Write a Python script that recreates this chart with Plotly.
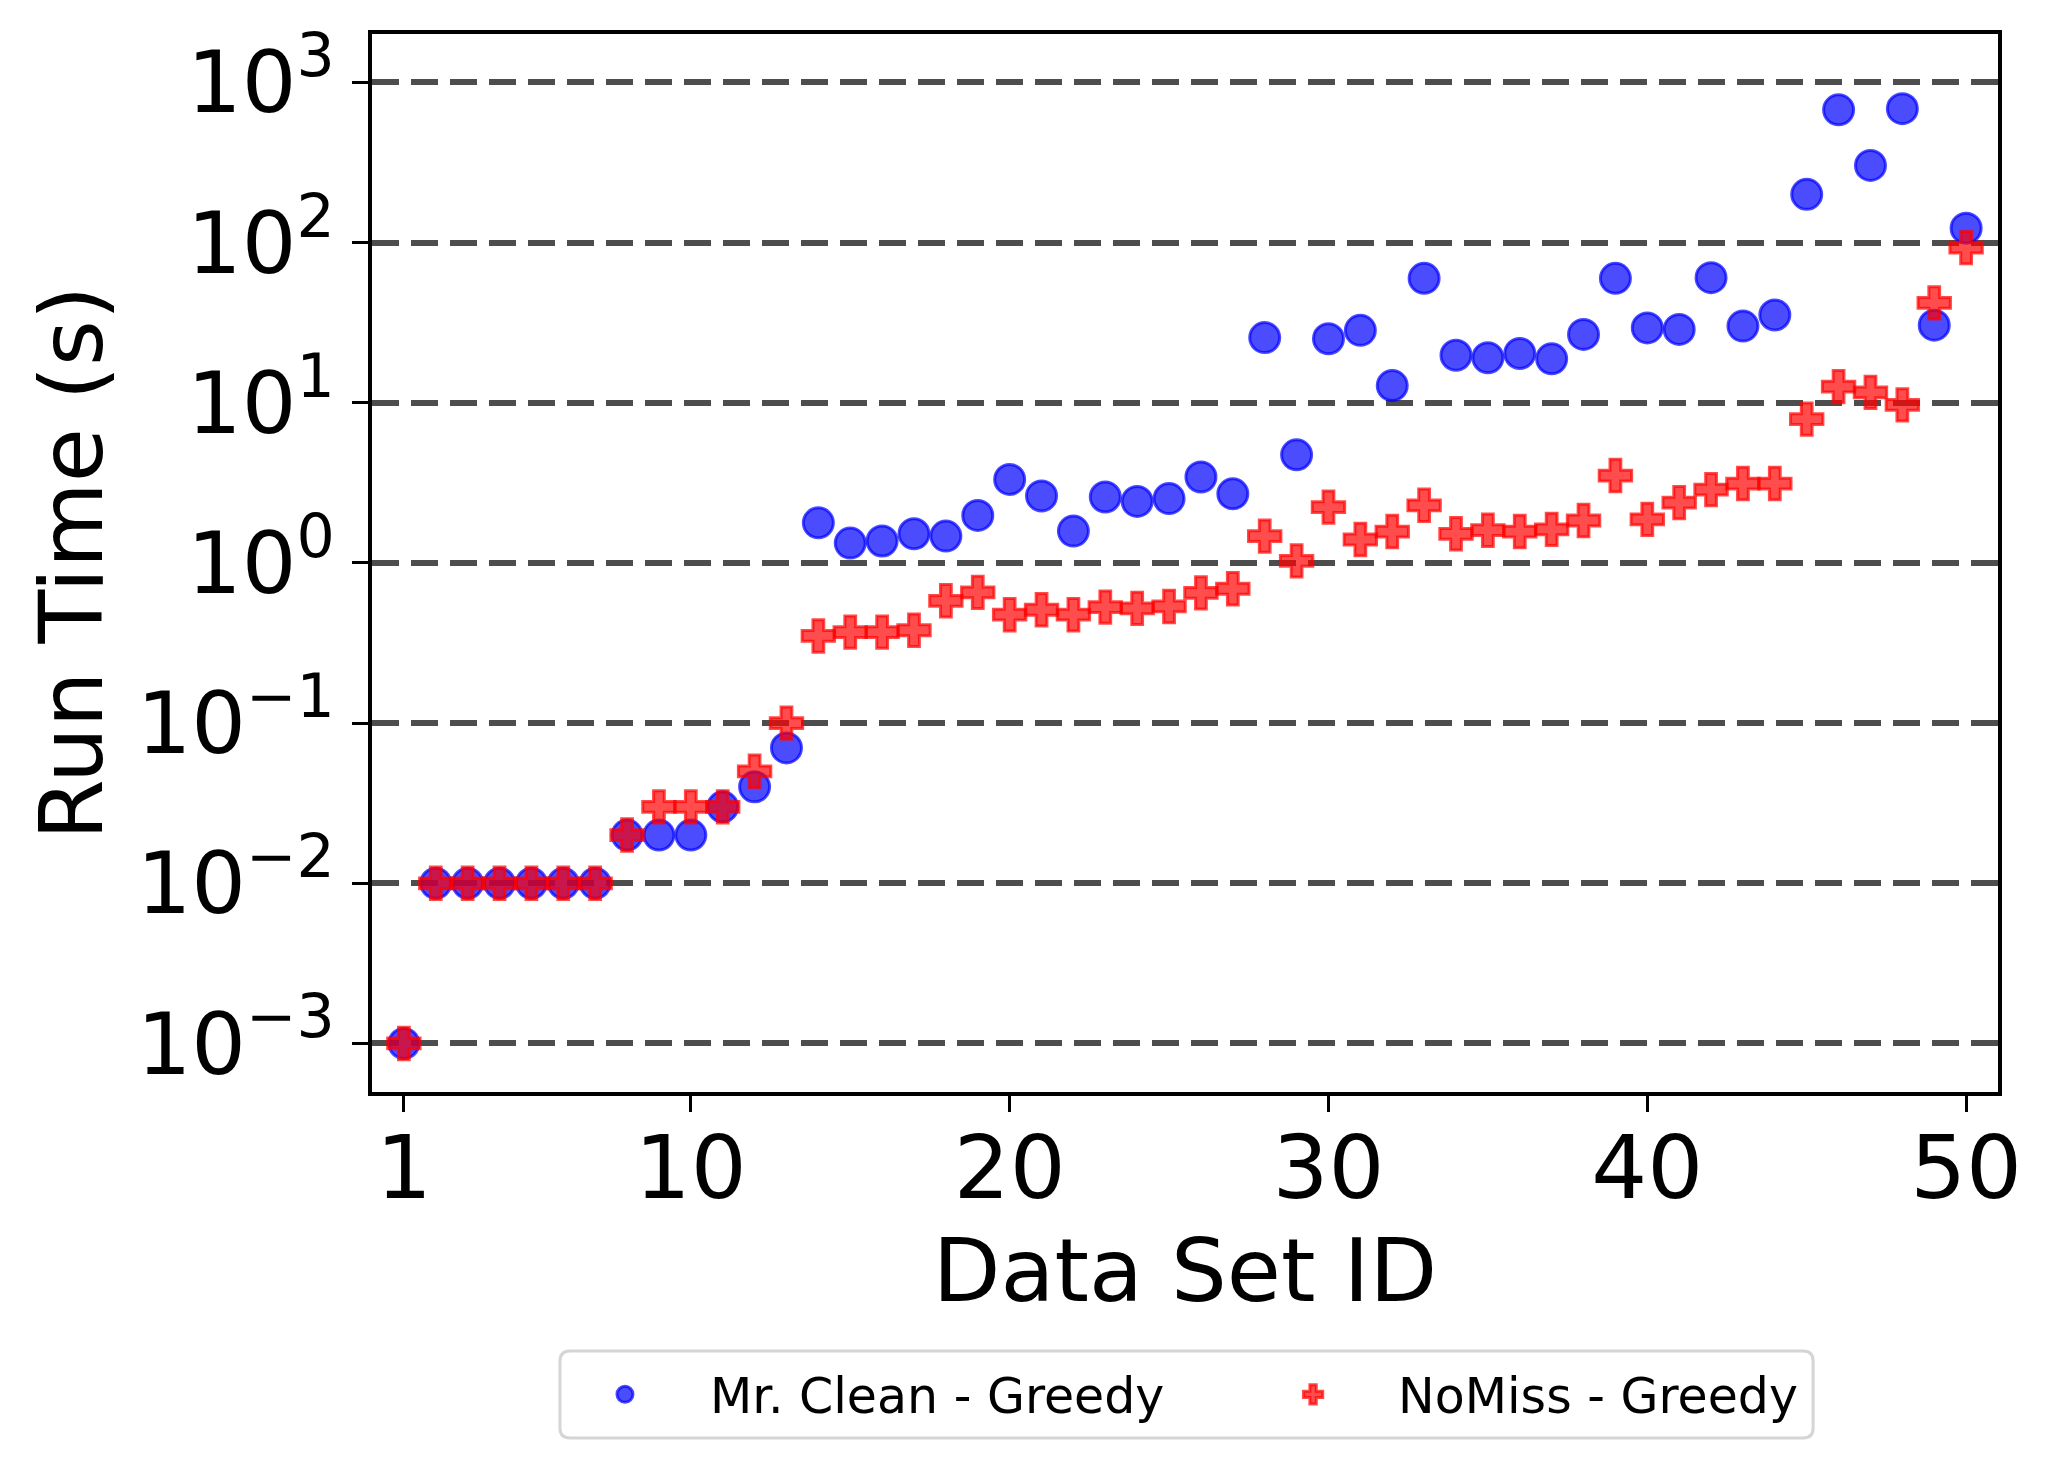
import plotly.graph_objects as go

# ---- data ----
dataset_ids = list(range(1, 51))

mr_clean_greedy = [
    0.001, 0.01, 0.01, 0.01, 0.01, 0.01, 0.01, 0.02, 0.02, 0.02,
    0.03, 0.04, 0.07, 1.78, 1.33, 1.37, 1.52, 1.47, 1.98, 3.32,
    2.62, 1.58, 2.58, 2.42, 2.52, 3.44, 2.70, 25.5, 4.73, 25.1,
    28.3, 12.8, 59.8, 19.8, 19.1, 20.3, 18.8, 26.7, 59.8, 29.3,
    28.7, 60.4, 30.1, 35.3, 200, 674, 303, 685, 30.5, 123,
]

nomiss_greedy = [
    0.001, 0.01, 0.01, 0.01, 0.01, 0.01, 0.01, 0.02, 0.03, 0.03,
    0.03, 0.05, 0.1, 0.35, 0.37, 0.37, 0.38, 0.58, 0.655, 0.475,
    0.51, 0.475, 0.53, 0.52, 0.535, 0.65, 0.69, 1.47, 1.03, 2.23,
    1.40, 1.57, 2.29, 1.52, 1.60, 1.57, 1.62, 1.84, 3.51, 1.87,
    2.38, 2.87, 3.13, 3.13, 7.9, 12.6, 11.6, 9.7, 42, 93,
]

x_tick_vals = [1, 10, 20, 30, 40, 50]
y_tick_vals = [1e-3, 1e-2, 1e-1, 1e0, 1e1, 1e2, 1e3]
y_tick_text = ["10<sup>\u22123</sup>", "10<sup>\u22122</sup>", "10<sup>\u22121</sup>",
               "10<sup>0</sup>", "10<sup>1</sup>", "10<sup>2</sup>", "10<sup>3</sup>"]

FONT = "DejaVu Sans"

fig = go.Figure()
fig.add_trace(go.Scatter(
    x=dataset_ids, y=mr_clean_greedy, mode="markers", name="Mr. Clean - Greedy",
    legend="legend",
    marker=dict(symbol="circle", size=30, color="rgba(0,0,255,0.7)",
                line=dict(color="rgba(0,0,255,0.7)", width=3)),
))
fig.add_trace(go.Scatter(
    x=dataset_ids, y=nomiss_greedy, mode="markers", name="NoMiss - Greedy",
    legend="legend2",
    marker=dict(symbol="cross", size=27, color="rgba(255,0,0,0.7)",
                line=dict(color="rgba(255,0,0,0.7)", width=3)),
))

# legend frame (rounded box) in paper coordinates
x0, x1 = 0.1156, 0.8863
yt, yb = -0.2448, -0.3270
rx, ry = 0.0062, 0.0095
frame_path = (
    f"M {x0+rx},{yt} L {x1-rx},{yt} Q {x1},{yt} {x1},{yt-ry} "
    f"L {x1},{yb+ry} Q {x1},{yb} {x1-rx},{yb} "
    f"L {x0+rx},{yb} Q {x0},{yb} {x0},{yb+ry} "
    f"L {x0},{yt-ry} Q {x0},{yt} {x0+rx},{yt} Z"
)

legend_common = dict(
    orientation="h", yanchor="middle", y=-0.2859, xanchor="left",
    font=dict(family=FONT, size=49, color="black"),
    bgcolor="rgba(0,0,0,0)", borderwidth=0, itemwidth=160,
)

fig.update_layout(
    width=2050, height=1464,
    margin=dict(l=364, r=60, t=26, b=380, autoexpand=False),
    paper_bgcolor="white", plot_bgcolor="white",
    font=dict(family=FONT, color="black", size=88),
    showlegend=True,
    legend=dict(x=0.1033, **legend_common),
    legend2=dict(x=0.5265, **legend_common),
    shapes=[dict(type="path", xref="paper", yref="paper", path=frame_path,
                 line=dict(color="#d5d5d5", width=3), fillcolor="white", layer="above")],
)

fig.update_xaxes(
    range=[0, 51], tickmode="array", tickvals=x_tick_vals,
    ticks="outside", ticklen=16, tickwidth=3, tickcolor="black",
    showline=True, linecolor="black", linewidth=4, mirror=True,
    showgrid=False, zeroline=False, ticklabelstandoff=-20,
    tickfont=dict(family=FONT, size=88, color="black"),
    title=dict(text="Data Set ID", font=dict(family=FONT, size=88, color="black"), standoff=20),
)
fig.update_yaxes(
    type="log", range=[-3.303, 3.302], tickmode="array",
    tickvals=y_tick_vals, ticktext=y_tick_text,
    ticks="outside", ticklen=16, tickwidth=3, tickcolor="black",
    showline=True, linecolor="black", linewidth=4, mirror=True,
    showgrid=True, gridcolor="#4d4d4d", gridwidth=6, griddash="27px,12px",
    zeroline=False,
    tickfont=dict(family=FONT, size=86, color="black"),
    title=dict(text="Run Time (s)", font=dict(family=FONT, size=88, color="black"), standoff=6),
)

fig.write_html("out.html")
